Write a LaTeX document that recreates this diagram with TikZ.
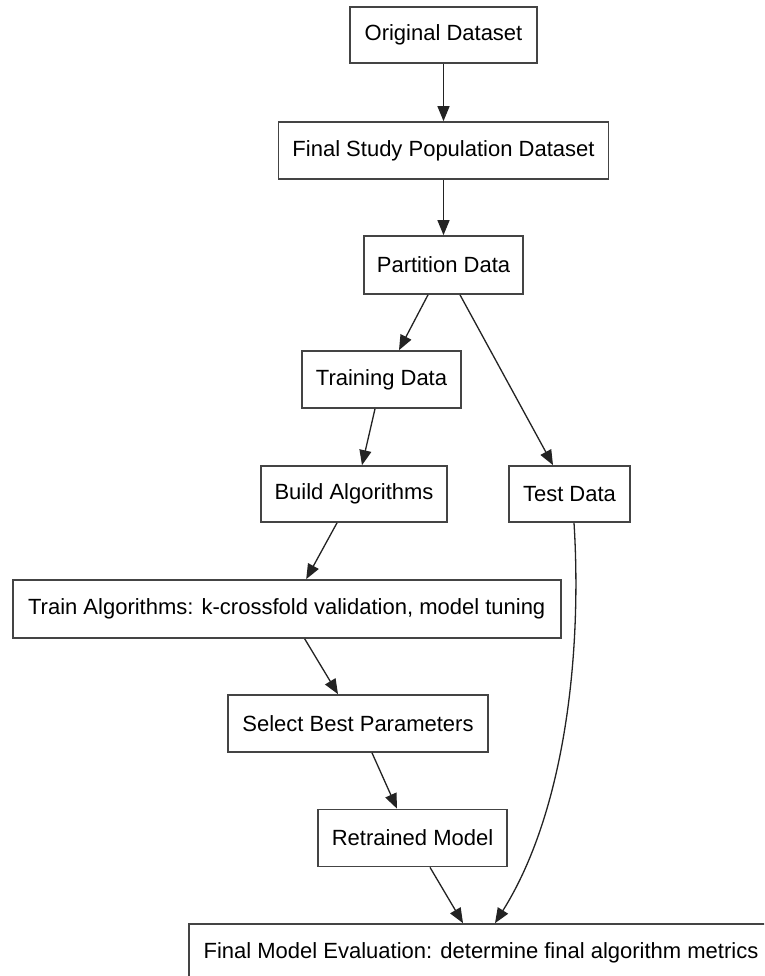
\documentclass[tikz,border=0pt]{standalone}
\usepackage{fontspec}
\setmainfont{Liberation Sans}
\usetikzlibrary{arrows.meta}
\definecolor{boxc}{RGB}{68,68,68}
\definecolor{linec}{RGB}{35,35,35}
\tikzset{
  box/.style={draw=boxc, line width=1.7pt, fill=white, inner sep=0pt, align=center,
    text=black, font=\fontsize{22}{26}\selectfont},
  arr/.style={-{Triangle[length=15pt,width=12pt]}, line width=1.3pt, draw=linec, fill=none},
}
\begin{document}
\begin{tikzpicture}[x=1pt,y=-1pt]
\useasboundingbox (0,0) rectangle (764,976);
\fill[white] (0,0) rectangle (764,976);
\clip (0,0) rectangle (764,976);

\node[box, minimum width=187pt, minimum height=56pt] (orig) at (443.5,35) {Original Dataset};
\node[box, minimum width=330pt, minimum height=57pt] (fsp) at (443.5,150.5) {Final Study Population Dataset};
\node[box, minimum width=159pt, minimum height=58pt] (part) at (443.5,265) {Partition Data};
\node[box, minimum width=159pt, minimum height=57pt] (train) at (381.5,379.5) {Training Data};
\node[box, minimum width=186pt, minimum height=56pt] (build) at (354,494) {Build Algorithms};
\node[box, minimum width=121pt, minimum height=56pt] (test) at (569.5,494) {Test Data};
\node[box, minimum width=548pt, minimum height=58pt] (talg) at (286.7,609) {Train Algorithms: k-crossfold validation, model tuning};
\node[box, minimum width=260pt, minimum height=57pt] (select) at (358,723.5) {Select Best Parameters};
\node[box, minimum width=189pt, minimum height=57pt] (retr) at (412.5,838) {Retrained Model};
\node[box, minimum width=584pt, minimum height=57pt] (final) at (481,952.5) {Final Model Evaluation: determine final algorithm metrics};

\draw[arr] (orig.south) -- (fsp.north);
\draw[arr] (fsp.south) -- (part.north);
\draw[arr] ([xshift=-15.5pt]part.south) -- ([xshift=17.5pt]train.north);
\draw[arr] ([xshift=16.5pt]part.south) -- ([xshift=-16.5pt]test.north);
\draw[arr] ([xshift=-6.5pt]train.south) -- ([xshift=8pt]build.north);
\draw[arr] ([xshift=-17pt]build.south) -- ([xshift=19.5pt]talg.north);
\draw[arr] ([xshift=18pt]talg.south) -- ([xshift=-20pt]select.north);
\draw[arr] ([xshift=14pt]select.south) -- ([xshift=-15.5pt]retr.north);
\draw[arr] ([xshift=17.5pt]retr.south) -- ([xshift=-18pt]final.north);
\draw[arr] ([xshift=4.5pt]test.south) .. controls (582,650) and (566,810) .. ([xshift=14pt]final.north);
\end{tikzpicture}
\end{document}
